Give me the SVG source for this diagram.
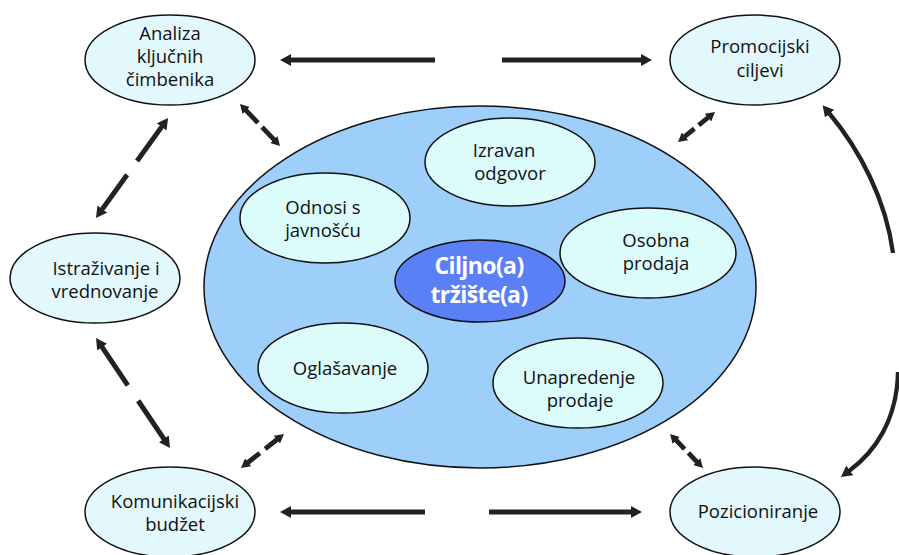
<svg xmlns="http://www.w3.org/2000/svg" width="899" height="555" viewBox="0 0 899 555">
<defs>
<style>
.outer{fill:#e2f8fd;stroke:#111;stroke-width:1.5}
.inner{fill:#dcfbfb;stroke:#111;stroke-width:1.5}
.big{fill:#9dcffa;stroke:#111;stroke-width:1.5}
.core{fill:#5b80f6;stroke:#111;stroke-width:1.5}
.lbl{font-family:"Open Sans","Liberation Sans",sans-serif;font-size:18.5px;fill:#111;text-anchor:middle}
.clbl{font-family:"Open Sans","Liberation Sans",sans-serif;font-size:23px;font-weight:bold;fill:#fff;text-anchor:middle;letter-spacing:-0.6px}
.solid{fill:none;stroke:#222;stroke-width:4.8}
.curve{fill:none;stroke:#222;stroke-width:4.3}
.dash{fill:none;stroke:#222;stroke-width:5}
.sdash{fill:none;stroke:#222;stroke-width:4.8}
</style>
<marker id="ah" markerUnits="userSpaceOnUse" markerWidth="11" markerHeight="12" refX="1" refY="6" orient="auto-start-reverse" viewBox="0 0 11 12">
<path d="M0,0 L11,6 L0,12 z" fill="#222"/>
</marker>
<marker id="sh" markerUnits="userSpaceOnUse" markerWidth="9" markerHeight="10" refX="1" refY="5" orient="auto-start-reverse" viewBox="0 0 9 10">
<path d="M0,0 L9,5 L0,10 z" fill="#222"/>
</marker>
</defs>
<rect width="899" height="555" fill="#fff"/>

<g id="trziste-krug">
<ellipse class="big" cx="480" cy="287" rx="276" ry="181"/>
</g>

<g id="connectors">
<path class="solid" d="M435,60 L290,60" marker-end="url(#ah)"/>
<path class="solid" d="M502,60 L642,60" marker-end="url(#ah)"/>
<path class="solid" d="M425,512 L290,512" marker-end="url(#ah)"/>
<path class="solid" d="M489,512 L632,512" marker-end="url(#ah)"/>
<path class="dash" d="M162.2,126.1 L101.8,209.9" stroke-dasharray="43 17" marker-start="url(#ah)" marker-end="url(#ah)"/>
<path class="dash" d="M101.6,346.3 L164.4,439.7" stroke-dasharray="47 18.6" marker-start="url(#ah)" marker-end="url(#ah)"/>
<path class="sdash" d="M245.5,109.8 L274.5,140.2" stroke-dasharray="18 6" marker-start="url(#sh)" marker-end="url(#sh)"/>
<path class="sdash" d="M708.8,117 L684.2,137" stroke-dasharray="13 5.6" marker-start="url(#sh)" marker-end="url(#sh)"/>
<path class="sdash" d="M277.7,439 L247.3,463" stroke-dasharray="16 6.8" marker-start="url(#sh)" marker-end="url(#sh)"/>
<path class="sdash" d="M675.6,439.7 L697.4,462.3" stroke-dasharray="13 5.4" marker-start="url(#sh)" marker-end="url(#sh)"/>
<path class="curve" d="M893,253 C886,200 860,150 829,113" marker-end="url(#ah)"/>
<path class="curve" d="M898,372 C897,420 875,452 849,471" marker-end="url(#ah)"/>
</g>

<g id="analiza">
<ellipse class="outer" cx="170" cy="60" rx="85" ry="45"/>
<text class="lbl" x="170" y="40">Analiza</text>
<text class="lbl" x="170" y="63">ključnih</text>
<text class="lbl" x="170" y="86">čimbenika</text>
</g>

<g id="promocijski">
<ellipse class="outer" cx="755" cy="60" rx="85" ry="45"/>
<text class="lbl" x="760" y="53">Promocijski</text>
<text class="lbl" x="760" y="77">ciljevi</text>
</g>

<g id="istrazivanje">
<ellipse class="outer" cx="95" cy="278" rx="85" ry="45"/>
<text class="lbl" x="106" y="275">Istraživanje i</text>
<text class="lbl" x="105" y="298">vrednovanje</text>
</g>

<g id="komunikacijski">
<ellipse class="outer" cx="170" cy="512" rx="85" ry="45"/>
<text class="lbl" x="175" y="508">Komunikacijski</text>
<text class="lbl" x="175" y="531">budžet</text>
</g>

<g id="pozicioniranje">
<ellipse class="outer" cx="755" cy="512" rx="85" ry="45"/>
<text class="lbl" x="758" y="518">Pozicioniranje</text>
</g>

<g id="izravan">
<ellipse class="inner" cx="510" cy="162" rx="85" ry="44"/>
<text class="lbl" x="504" y="157">Izravan</text>
<text class="lbl" x="510" y="180">odgovor</text>
</g>

<g id="odnosi">
<ellipse class="inner" cx="325" cy="218" rx="85" ry="45"/>
<text class="lbl" x="323" y="214">Odnosi s</text>
<text class="lbl" x="323" y="237">javnošću</text>
</g>

<g id="osobna">
<ellipse class="inner" cx="648" cy="253" rx="88" ry="45"/>
<text class="lbl" x="656" y="247">Osobna</text>
<text class="lbl" x="656" y="270">prodaja</text>
</g>

<g id="oglasavanje">
<ellipse class="inner" cx="343" cy="368" rx="85" ry="45"/>
<text class="lbl" x="345" y="375">Oglašavanje</text>
</g>

<g id="unapredenje">
<ellipse class="inner" cx="578" cy="383" rx="85" ry="45"/>
<text class="lbl" x="579" y="384">Unapredenje</text>
<text class="lbl" x="580" y="407">prodaje</text>
</g>

<g id="ciljno">
<ellipse class="core" cx="480" cy="281" rx="85" ry="41"/>
<text class="clbl" x="479" y="274">Ciljno(a)</text>
<text class="clbl" x="479" y="303">tržište(a)</text>
</g>
</svg>
